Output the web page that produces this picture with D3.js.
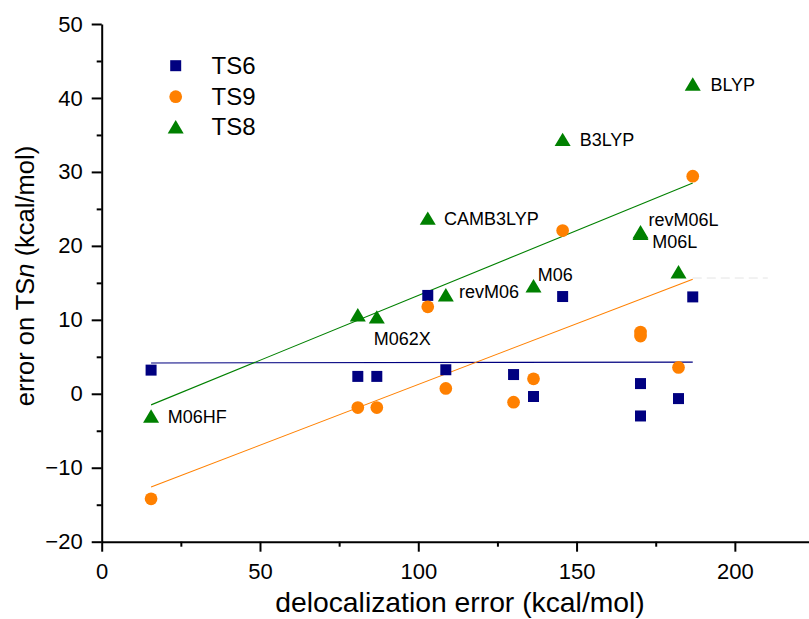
<!DOCTYPE html>
<html>
<head>
<meta charset="utf-8">
<script src="https://cdn.jsdelivr.net/npm/d3@7/dist/d3.min.js"></script>
<style>
  html, body { margin: 0; padding: 0; background: #fff; }
  svg { display: block; font-family: "Liberation Sans", Arial, sans-serif; }
</style>
</head>
<body>
<svg id="chart" width="809" height="619"></svg>
<script>
// Delocalization error of each functional (kcal/mol)
const delocError = [15.6, 80.9, 86.9, 103.0, 108.7, 130.1, 136.4, 145.6, 170.2, 170.2, 182.2, 186.7];
// Error on each transition state (kcal/mol); null = not available
const ts6 = [3.2, 2.35, 2.35, 13.3, 3.25, 2.6, -0.37, 13.15, 1.38, -3.0, -0.65, 13.1];
const ts9 = [-14.2, -1.87, -1.87, 11.76, 0.72, -1.13, 2.03, 22.07, 8.34, 7.8, 3.56, 29.43];
const ts8 = [-3.0, 10.7, 10.4, 23.75, 13.4, null, 14.6, 34.4, 21.9, 21.7, 16.5, 41.9];
// Functional names shown next to the TS8 points
const functionalLabels = ["M06HF", "", "M062X", "CAMB3LYP", "revM06", "", "M06", "B3LYP", "revM06L", "M06L", "", "BLYP"];

// Linear fit end points [x, y] for each series
const fitTS6 = [[15.6, 4.17], [186.7, 4.28]];
const fitTS9 = [[15.6, -12.6], [186.7, 15.5]];
const fitTS8 = [[15.6, -1.5], [186.7, 28.5]];
const fitGuide = [[186.7, 15.65], [210.4, 15.65]];

const xMajorTicks = [0, 50, 100, 150, 200];
const xMinorTicks = [25, 75, 125, 175, 225];
const yMajorTicks = [-20, -10, 0, 10, 20, 30, 40, 50];
const yMinorTicks = [-15, -5, 5, 15, 25, 35, 45];

const seriesNames = ["TS6", "TS9", "TS8"];

// ---- layout / style ----
const colors = { TS6: "#000080", TS9: "#ff8000", TS8: "#008000" };
const labelOffsets = {
  "M06HF": [16.7, 6.7], "M062X": [-3, 28], "CAMB3LYP": [16.3, 6.7], "revM06": [13.3, 3.3],
  "M06": [4.3, -4.8], "B3LYP": [17, 7], "BLYP": [17.7, 6.8], "revM06L": [8, -5.8], "M06L": [11.7, 14.8]
};

const svg = d3.select("#chart");
const x = d3.scaleLinear().domain([0, 225]).range([101.7, 814]);
const y = d3.scaleLinear().domain([-20, 50]).range([541.7, 24]);

// custom triangle centred on its bounding box
const triangleType = {
  draw(ctx, size) {
    const w = Math.sqrt(size) * 1.2, h = w * 0.84;
    ctx.moveTo(0, -h / 2);
    ctx.lineTo(w / 2, h / 2);
    ctx.lineTo(-w / 2, h / 2);
    ctx.closePath();
  }
};
const symbols = {
  TS6: d3.symbol().type(d3.symbolSquare).size(121),
  TS9: d3.symbol().type(d3.symbolCircle).size(127),
  TS8: d3.symbol().type(triangleType).size(178)
};

// ---- axes ----
const tickFont = 22;
const xAxis = svg.append("g").attr("transform", `translate(0,${y(-20)})`)
  .call(d3.axisBottom(x).tickValues(xMajorTicks).tickSize(10).tickSizeOuter(0).tickPadding(6).tickFormat(d3.format("d")));
svg.append("g").attr("transform", `translate(0,${y(-20)})`)
  .call(d3.axisBottom(x).tickValues(xMinorTicks).tickSize(5).tickSizeOuter(0).tickFormat(""))
  .select(".domain").remove();
const yAxis = svg.append("g").attr("transform", `translate(${x(0)},0)`)
  .call(d3.axisLeft(y).tickValues(yMajorTicks).tickSize(10).tickSizeOuter(0).tickPadding(9).tickFormat(d3.format("d")));
svg.append("g").attr("transform", `translate(${x(0)},0)`)
  .call(d3.axisLeft(y).tickValues(yMinorTicks).tickSize(5).tickSizeOuter(0).tickFormat(""))
  .select(".domain").remove();

svg.selectAll(".domain, .tick line").attr("stroke", "#000").attr("stroke-width", 2);
svg.selectAll(".tick text").attr("font-size", tickFont).attr("font-family", "Liberation Sans, Arial, sans-serif").attr("fill", "#000");
xAxis.selectAll(".tick text").attr("dy", "0.95em");

// axis titles
svg.append("text")
  .attr("x", 460).attr("y", 612)
  .attr("text-anchor", "middle").attr("font-size", 28.3)
  .text("delocalization error (kcal/mol)");
const yTitle = svg.append("text")
  .attr("transform", `translate(34,276) rotate(-90)`)
  .attr("text-anchor", "middle").attr("font-size", 25.5);
yTitle.append("tspan").text("error on TS");
yTitle.append("tspan").attr("font-style", "italic").text("n");
yTitle.append("tspan").text(" (kcal/mol)");

// ---- fit lines ----
const line = d3.line().x(d => x(d[0])).y(d => y(d[1]));
svg.append("path").datum(fitGuide).attr("d", line).attr("fill", "none")
  .attr("stroke", "#e4e4e4").attr("stroke-width", 1).attr("stroke-dasharray", "9,5");
[[fitTS6, "TS6"], [fitTS9, "TS9"], [fitTS8, "TS8"]].forEach(([pts, key]) => {
  svg.append("path").datum(pts).attr("d", line).attr("fill", "none")
    .attr("stroke", colors[key]).attr("stroke-width", 1.1);
});

// ---- points ----
const series = { TS6: ts6, TS9: ts9, TS8: ts8 };
seriesNames.forEach(key => {
  const pts = delocError.map((xv, i) => ({ x: xv, y: series[key][i] })).filter(d => d.y !== null);
  svg.append("g").selectAll("path").data(pts).join("path")
    .attr("d", symbols[key]())
    .attr("transform", d => `translate(${x(d.x)},${y(d.y)})`)
    .attr("fill", colors[key]);
});

// ---- point labels ----
functionalLabels.forEach((name, i) => {
  if (!name || ts8[i] === null) return;
  const [dx, dy] = labelOffsets[name];
  svg.append("text")
    .attr("x", x(delocError[i]) + dx).attr("y", y(ts8[i]) + dy)
    .attr("font-size", 18).attr("fill", "#000")
    .text(name);
});

// ---- legend ----
const legendRows = [65.7, 96.7, 126.7];
seriesNames.forEach((key, i) => {
  svg.append("path").attr("d", symbols[key]())
    .attr("transform", `translate(175.7,${legendRows[i]})`).attr("fill", colors[key]);
  svg.append("text").attr("x", 211.5).attr("y", legendRows[i] + 8.5)
    .attr("font-size", 24).attr("fill", "#000").text(key);
});
</script>
</body>
</html>
